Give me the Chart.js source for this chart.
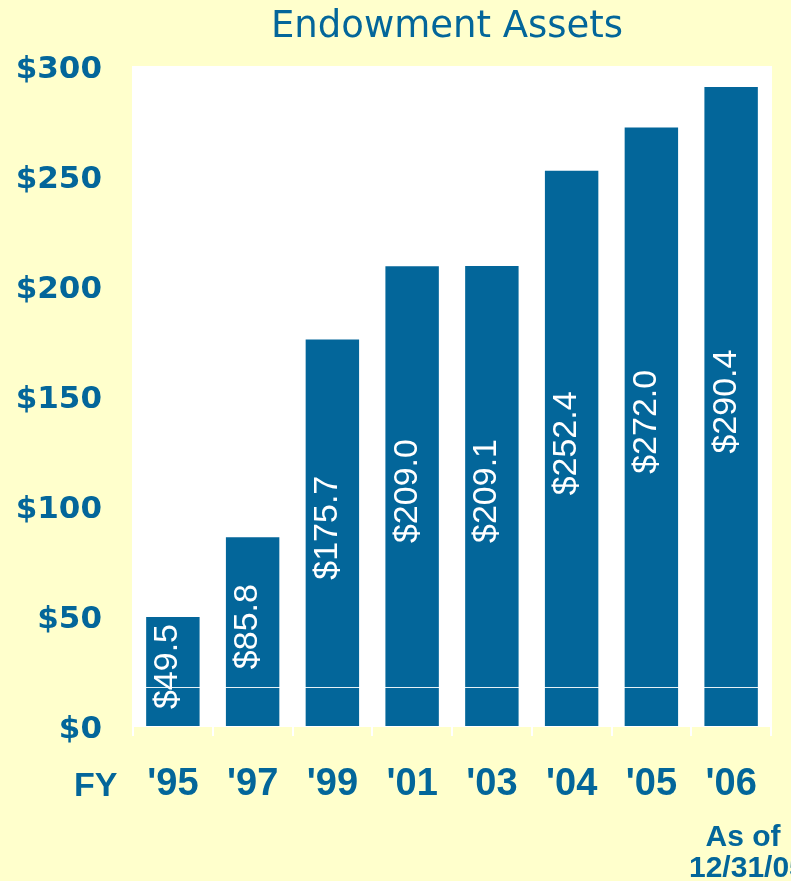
<!DOCTYPE html>
<html>
<head>
<meta charset="utf-8">
<script src="https://cdn.jsdelivr.net/npm/chart.js@4.4.0/dist/chart.umd.min.js"></script>
<style>
  html, body { margin: 0; padding: 0; background: #ffffcc; overflow: hidden; }
  canvas { display: block; }
</style>
</head>
<body>
<canvas id="myChart" width="791" height="881"></canvas>
<script>
// data ($ millions)
const years = ["'95", "'97", "'99", "'01", "'03", "'04", "'05", "'06"];
const assets = [49.5, 85.8, 175.7, 209.0, 209.1, 252.4, 272.0, 290.4];
const assetLabels = ["$49.5", "$85.8", "$175.7", "$209.0", "$209.1", "$252.4", "$272.0", "$290.4"];
const yTicks = [0, 50, 100, 150, 200, 250, 300];

const blue = "#03669a";

// white plot background + faint line across bars
const plotArea = {
  id: "plotArea",
  beforeDraw(chart) {
    const { ctx, chartArea } = chart;
    ctx.save();
    ctx.fillStyle = "#ffffff";
    ctx.fillRect(chartArea.left - 1, chartArea.top, chartArea.width + 2, chartArea.height + 1);
    ctx.restore();
  },
  afterDatasetsDraw(chart) {
    const { ctx, chartArea } = chart;
    const meta = chart.getDatasetMeta(0);
    ctx.save();
    // bar value labels, rotated
    ctx.fillStyle = "#ffffff";
    ctx.font = "34px 'Liberation Sans', Arial, sans-serif";
    ctx.textAlign = "center";
    ctx.textBaseline = "middle";
    meta.data.forEach((bar, i) => {
      ctx.save();
      ctx.translate(bar.x, (bar.y + bar.base) / 2);
      ctx.rotate(-Math.PI / 2);
      ctx.fillText(assetLabels[i], 5, -5);
      ctx.restore();
    });
    // thin white line seen in the picture
    const y = Math.round(chart.scales.y.getPixelForValue(17.8)) + 0.5;
    ctx.strokeStyle = "rgba(255,255,255,0.9)";
    ctx.lineWidth = 1;
    ctx.beginPath();
    ctx.moveTo(chartArea.left, y);
    ctx.lineTo(chartArea.right, y);
    ctx.stroke();
    ctx.restore();
  }
};

// title and the extra texts
const extraText = {
  id: "extraText",
  afterDraw(chart) {
    const { ctx } = chart;
    ctx.save();
    ctx.fillStyle = blue;
    ctx.textBaseline = "alphabetic";

    ctx.font = "37px 'DejaVu Sans', sans-serif";
    ctx.textAlign = "center";
    ctx.fillText("Endowment Assets", 447, 37);

    ctx.font = "bold 34px 'Liberation Sans', Arial, sans-serif";
    ctx.textAlign = "left";
    ctx.fillText("FY", 74, 796);

    ctx.font = "bold 30px 'Liberation Sans', Arial, sans-serif";
    ctx.textAlign = "center";
    ctx.fillText("As of", 743, 846);
    ctx.textAlign = "left";
    ctx.fillText("12/31/05", 689, 877);
    ctx.restore();
  }
};

const ctx = document.getElementById("myChart");

new Chart(ctx, {
  type: "bar",
  data: {
    labels: years,
    datasets: [
      {
        label: "Endowment Assets",
        data: assets,
        backgroundColor: blue,
        borderWidth: 0,
        barPercentage: 0.67,
        categoryPercentage: 1.0,
      },
    ],
  },
  options: {
    responsive: false,
    animation: false,
    layout: {
      padding: { top: 66, right: 20, bottom: 0, left: 0 },
    },
    scales: {
      x: {
        offset: true,
        afterFit(scale) { scale.height = 155; },
        grid: {
          display: true,
          drawOnChartArea: false,
          drawTicks: true,
          tickLength: 10,
          color: "#ffffff",
          lineWidth: 2,
          offset: true,
        },
        border: { display: false },
        ticks: {
          color: blue,
          padding: 26,
          font: { family: "'Liberation Sans', Arial, sans-serif", size: 38, weight: "bold" },
        },
      },
      y: {
        min: 0,
        max: 300,
        afterFit(scale) { scale.width = 133; },
        afterBuildTicks(scale) {
          scale.ticks = yTicks.map(v => ({ value: v }));
        },
        grid: { display: false, drawTicks: false },
        border: { display: false },
        ticks: {
          color: blue,
          padding: 31,
          labelOffset: 4,
          font: { family: "'DejaVu Sans', sans-serif", size: 31, weight: "bold" },
          callback: v => "$" + v,
        },
      },
    },
    plugins: {
      legend: { display: false },
      title: { display: false },
      tooltip: { enabled: false },
    },
  },
  plugins: [plotArea, extraText],
});
</script>
</body>
</html>
